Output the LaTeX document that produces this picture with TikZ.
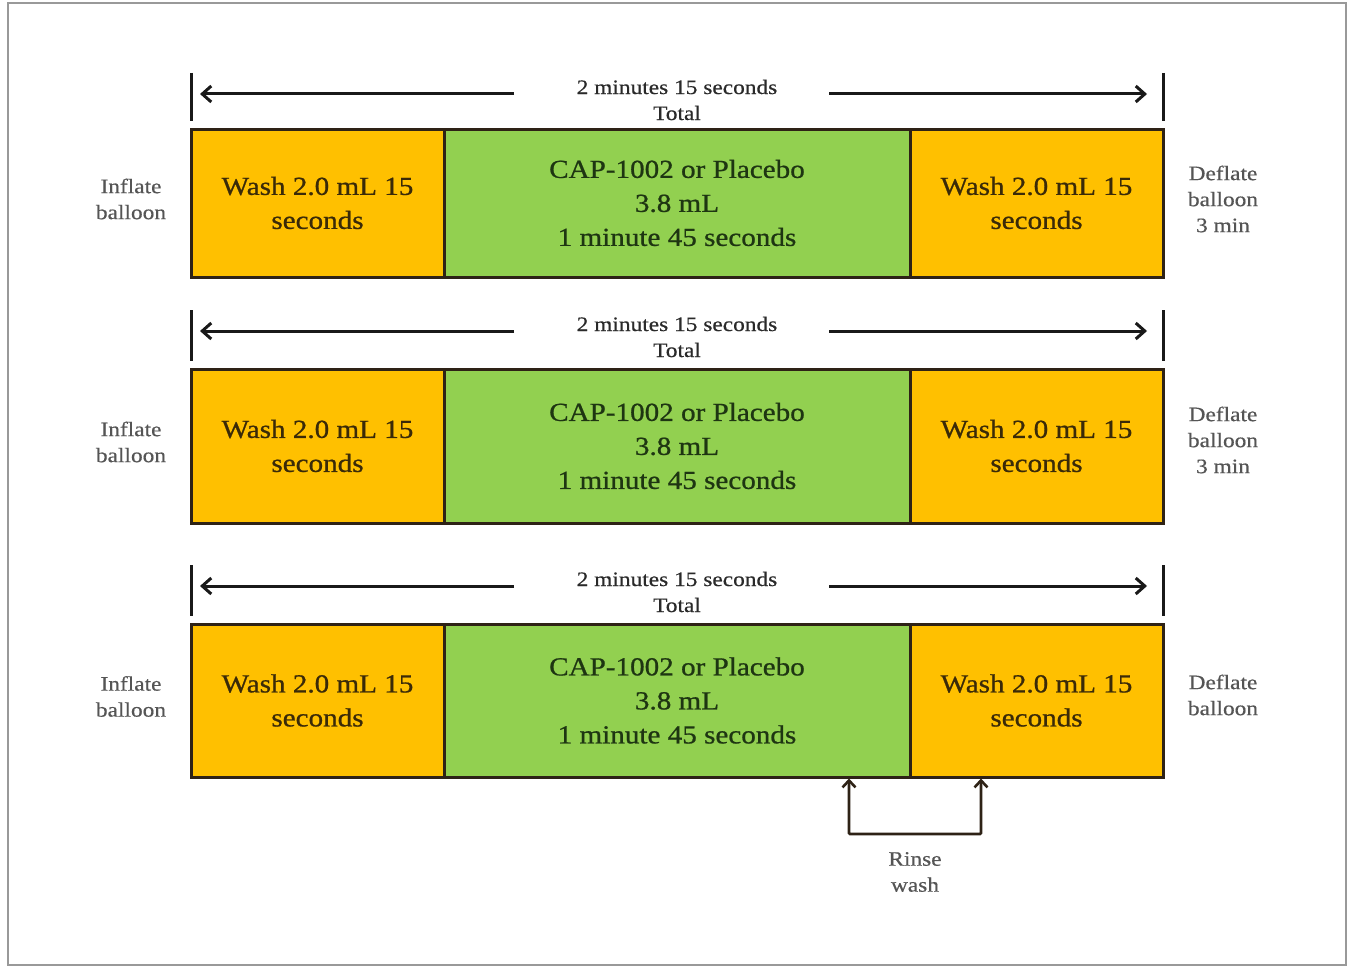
\documentclass[tikz,border=0pt]{standalone}
\usepackage{fontspec}
\setmainfont{Liberation Serif}[FakeStretch=1.13]
\newfontfamily\boxfont{Liberation Serif}[FakeStretch=1.12,FakeBold=0.8]
\newfontfamily\sidefont{Liberation Serif}[FakeStretch=1.14,FakeBold=0.5]
\usetikzlibrary{arrows.meta}
\definecolor{washc}{HTML}{FFC000}
\definecolor{capc}{HTML}{92D050}
\definecolor{edgec}{HTML}{2E2216}
\definecolor{sidec}{HTML}{555555}
\definecolor{washtxt}{HTML}{3A2A08}
\definecolor{captxt}{HTML}{1E3512}
\definecolor{txtc}{HTML}{2A2A2A}
\tikzset{
  boxbase/.style={draw=edgec, line width=3pt, inner sep=0pt, align=center,
    font=\boxfont\fontsize{26}{34}\selectfont},
  washbox/.style={boxbase, fill=washc, text=washtxt},
  capbox/.style={boxbase, fill=capc, text=captxt},
  sidelabel/.style={align=center, text=sidec, font=\sidefont\fontsize{20.5}{26}\selectfont},
  totallabel/.style={align=center, text=txtc, font=\sidefont\fontsize{20.5}{26}\selectfont},
  tickline/.style={line width=3pt, black!90, shorten >=7pt},
  spanarrow/.style={line width=3pt, black!90, -{Straight Barb[length=9pt,width=16pt,line width=3pt]}},
  rinsearrow/.style={line width=2.8pt, edgec, {Straight Barb[length=7pt,width=13pt,line width=2.6pt]}-{Straight Barb[length=7pt,width=13pt,line width=2.6pt]}, rounded corners=1pt},
}
\begin{document}
\begin{tikzpicture}[x=1pt,y=-1pt]
\useasboundingbox (0,0) rectangle (1353,966);
\draw[line width=2pt, gray!80] (8,3) rectangle (1346,965);

\foreach \i/\t/\b/\a in {1/129/277/94, 2/369/523/331, 3/624/777/586}{
  \pgfmathsetmacro\h{\b-\t}
  \pgfmathsetmacro\c{(\b+\t)/2}
  \node[washbox, minimum width=253pt, minimum height=\h pt] (L\i) at (317.5,\c) {Wash 2.0 mL 15\\seconds};
  \node[capbox, minimum width=466pt, minimum height=\h pt] (G\i) at (677,\c) {CAP-1002 or Placebo\\3.8 mL\\1 minute 45 seconds};
  \node[washbox, minimum width=253pt, minimum height=\h pt] (R\i) at (1036.5,\c) {Wash 2.0 mL 15\\seconds};
  \node[sidelabel] (inf\i) at (131,\c-4) {Inflate\\balloon};
  \node[totallabel] (tot\i) at (677,\a+6) {2 minutes 15 seconds\\Total};
  \coordinate (tl\i) at (191,\a-21);
  \coordinate (tr\i) at (1163,\a-21);
  \coordinate (al\i) at (514,\a);
  \coordinate (ar\i) at (829,\a);
  \coordinate (hl\i) at (200,\a);
  \coordinate (hr\i) at (1147,\a);
  \draw[tickline] (tl\i) -- (tl\i |- L\i.north);
  \draw[tickline] (tr\i) -- (tr\i |- R\i.north);
  \draw[spanarrow] (al\i) -- (hl\i);
  \draw[spanarrow] (ar\i) -- (hr\i);
}
\node[sidelabel] (def1) at (1223,199) {Deflate\\balloon\\3 min};
\node[sidelabel] (def2) at (1223,440) {Deflate\\balloon\\3 min};
\node[sidelabel] (def3) at (1223,695) {Deflate\\balloon};

\coordinate (r1) at (849,834);
\coordinate (r2) at (981,834);
\draw[rinsearrow] (r1 |- G3.south) -- (r1) -- (r2) -- (r2 |- R3.south);
\node[sidelabel] (rinse) at (915,872) {Rinse\\wash};
\end{tikzpicture}
\end{document}
